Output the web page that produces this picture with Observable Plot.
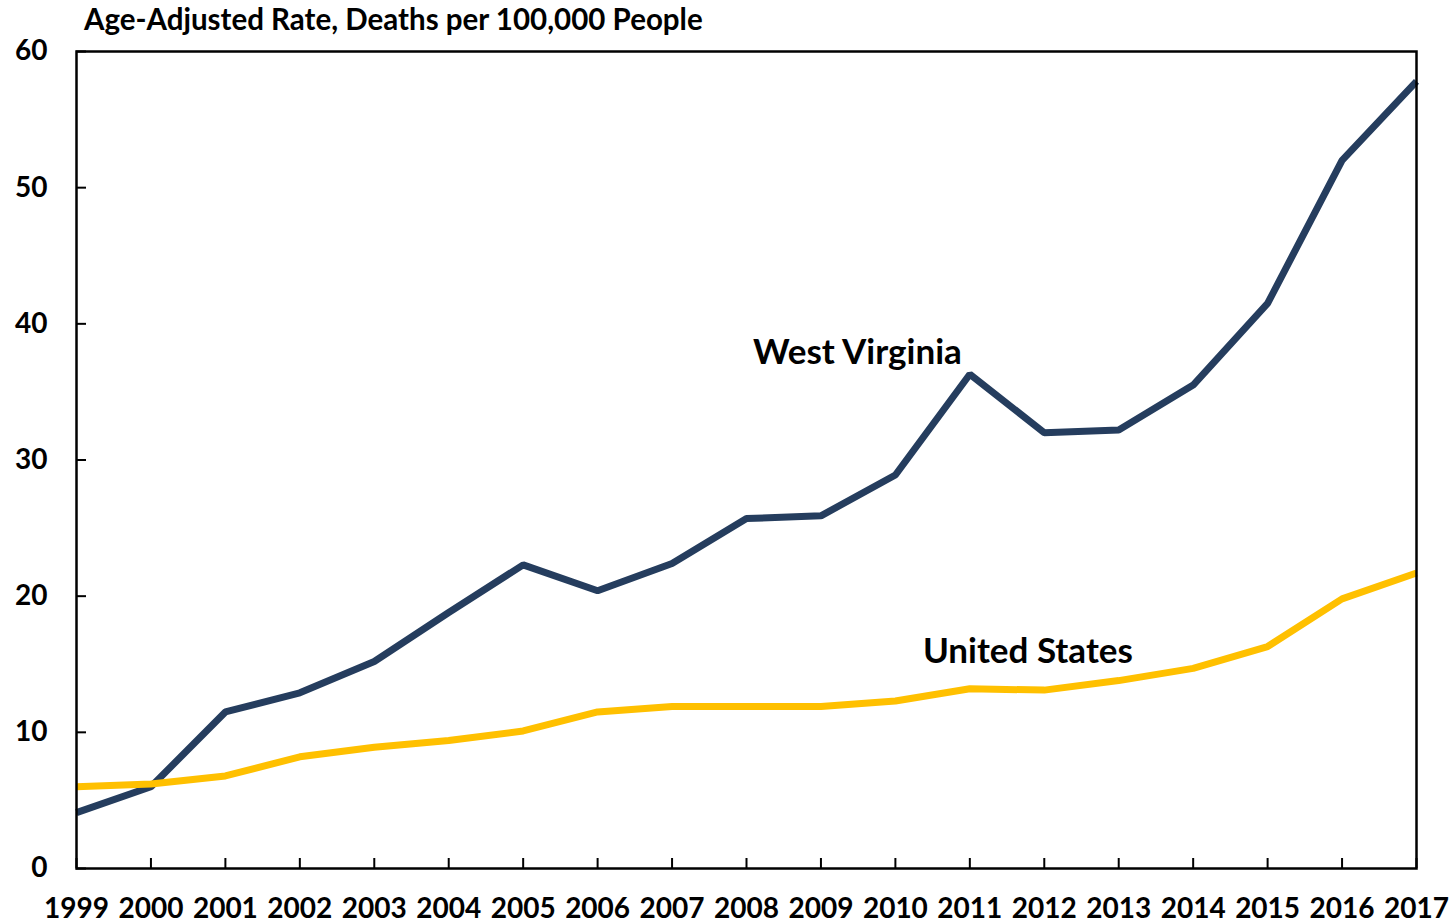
<!DOCTYPE html>
<html>
<head>
<meta charset="utf-8">
<script src="https://cdn.jsdelivr.net/npm/d3@7"></script>
<script src="https://cdn.jsdelivr.net/npm/@observablehq/plot@0.6"></script>
<style>
  html, body { margin: 0; padding: 0; background: #fff; }
  #wrap { width: 1455px; height: 923px; position: relative; font-family: Lato, "Open Sans", sans-serif; }
  #title { height: 36px; line-height: 38px; padding-left: 84px; font-size: 29.5px; font-weight: bold; color: #000; white-space: nowrap; }
  svg { overflow: visible; }
</style>
</head>
<body>
<div id="wrap">
  <div id="title">Age-Adjusted Rate, Deaths per 100,000 People</div>
  <div id="chart"></div>
</div>
<script>
const years = [1999, 2000, 2001, 2002, 2003, 2004, 2005, 2006, 2007, 2008, 2009, 2010, 2011, 2012, 2013, 2014, 2015, 2016, 2017];
const westVirginia = [4.1, 6.0, 11.5, 12.9, 15.2, 18.8, 22.3, 20.4, 22.4, 25.7, 25.9, 28.9, 36.3, 32.0, 32.2, 35.5, 41.5, 52.0, 57.8];
const unitedStates = [6.0, 6.2, 6.8, 8.2, 8.9, 9.4, 10.1, 11.5, 11.9, 11.9, 11.9, 12.3, 13.2, 13.1, 13.8, 14.7, 16.3, 19.8, 21.7];
const yTicks = [0, 10, 20, 30, 40, 50, 60];
const seriesNames = ["West Virginia", "United States"];
const seriesColors = ["#253D5E", "#FFC000"];
const labelX = [2009.49, 2011.78];
const labelY = [37.9, 15.9];

const rows = [];
years.forEach((yr, i) => {
  rows.push({year: yr, value: westVirginia[i], series: seriesNames[0]});
  rows.push({year: yr, value: unitedStates[i], series: seriesNames[1]});
});
const labels = seriesNames.map((s, i) => ({name: s, x: labelX[i], y: labelY[i]}));

const chart = Plot.plot({
  width: 1455,
  height: 887,
  marginLeft: 76,
  marginRight: 39,
  marginTop: 15,
  marginBottom: 55,
  style: {fontFamily: "Lato, 'Open Sans', sans-serif", fontSize: "28px", fontWeight: "bold", color: "#000", background: "#fff"},
  x: {domain: [1999, 2017], ticks: years, tickFormat: d => String(d)},
  y: {domain: [0, 60], ticks: yTicks},
  color: {domain: seriesNames, range: seriesColors},
  marks: [
    Plot.line(rows, {x: "year", y: "value", z: "series", stroke: "series", strokeWidth: 7, strokeLinejoin: "miter", strokeLinecap: "butt", clip: false}),
    Plot.frame({stroke: "#000", strokeWidth: 2.5}),
    Plot.axisY({ticks: yTicks, tickSize: -10, tickPadding: 39, strokeWidth: 2, fontSize: 28, fontWeight: "bold", label: null}),
    Plot.axisX({ticks: years, tickFormat: d => String(d), tickSize: -10, tickPadding: 40, strokeWidth: 2, fontSize: 28, fontWeight: "bold", label: null}),
    Plot.text(labels, {x: "x", y: "y", text: "name", fontSize: 35, fontWeight: "bold", fill: "#000"})
  ]
});
document.getElementById("chart").appendChild(chart);
</script>
</body>
</html>
